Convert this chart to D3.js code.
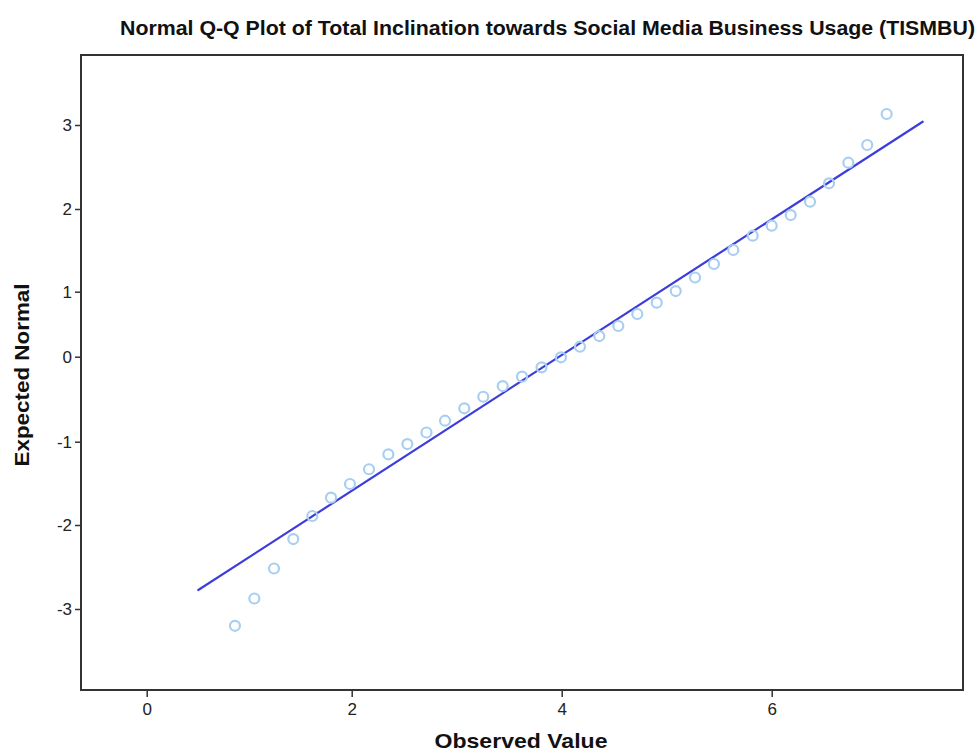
<!DOCTYPE html>
<html>
<head>
<meta charset="utf-8">
<script src="https://cdn.jsdelivr.net/npm/d3@7"></script>
<style>
  html, body { margin: 0; padding: 0; background: #fff; }
  svg { display: block; }
  .tick text { font-family: "Liberation Sans Narrow", "Liberation Sans", Arial, sans-serif; font-size: 17px; fill: #222; }
  .tick line { stroke: #333; stroke-width: 1.5; }
  .label { font-family: "Liberation Sans Narrow", "Liberation Sans", Arial, sans-serif; font-weight: bold; fill: #111; }
</style>
</head>
<body>
<svg id="chart" width="978" height="752"></svg>
<script>
// Observed scores and their expected normal quantiles
const observedValues = [
  0.861, 1.050, 1.242, 1.430, 1.616, 1.798, 1.983, 2.165, 2.349, 2.530,
  2.712, 2.889, 3.072, 3.253, 3.438, 3.622, 3.808, 3.993, 4.174, 4.358,
  4.539, 4.720, 4.905, 5.086, 5.270, 5.450, 5.634, 5.819, 6.000, 6.181,
  6.365, 6.546, 6.730, 6.910, 7.095
];
const expectedNormal = [
  -3.200, -2.875, -2.518, -2.167, -1.892, -1.672, -1.508, -1.331, -1.151, -1.028,
  -0.892, -0.753, -0.607, -0.471, -0.345, -0.235, -0.125, -0.007, 0.154, 0.318,
  0.472, 0.657, 0.831, 1.008, 1.172, 1.335, 1.504, 1.677, 1.798, 1.927,
  2.087, 2.306, 2.551, 2.762, 3.131
];
// Reference line (end points in data units)
const refLineX = [0.503, 7.438];
const refLineY = [-2.774, 3.039];

const xTicks = [0, 2, 4, 6];
const yTicks = [-3, -2, -1, 0, 1, 2, 3];

const titleText = "Normal Q-Q Plot of Total Inclination towards Social Media Business Usage (TISMBU)";
const xLabel = "Observed Value";
const yLabel = "Expected Normal";

// Plot frame
const frame = { left: 81, top: 55, right: 963, bottom: 690 };

const svg = d3.select("#chart");

// Axis scales (piecewise so each tick sits where the axis places it)
const x = d3.scaleLinear()
  .domain(xTicks)
  .range([146.7, 351.7, 561.7, 771.7]);
const y = d3.scaleLinear()
  .domain(yTicks)
  .range([609, 525, 441.7, 356.7, 291.7, 209, 125]);

// Title
svg.append("text")
  .attr("class", "label")
  .attr("x", 120)
  .attr("y", 35)
  .attr("textLength", 855)
  .attr("lengthAdjust", "spacingAndGlyphs")
  .style("font-size", "20px")
  .text(titleText);

// Frame
svg.append("rect")
  .attr("x", frame.left)
  .attr("y", frame.top)
  .attr("width", frame.right - frame.left)
  .attr("height", frame.bottom - frame.top)
  .attr("fill", "none")
  .attr("stroke", "#333")
  .attr("stroke-width", 2);

// Axes
const xAxis = svg.append("g")
  .attr("transform", `translate(0,${frame.bottom})`)
  .call(d3.axisBottom(x).tickValues(xTicks).tickSize(7).tickPadding(6).tickFormat(d => String(d)));
xAxis.select(".domain").remove();

const yAxis = svg.append("g")
  .attr("transform", `translate(${frame.left},0)`)
  .call(d3.axisLeft(y).tickValues(yTicks).tickSize(6).tickPadding(3).tickFormat(d => String(d)));
yAxis.select(".domain").remove();

// Axis titles
svg.append("text")
  .attr("class", "label")
  .attr("x", 521)
  .attr("y", 748)
  .attr("text-anchor", "middle")
  .attr("textLength", 173)
  .attr("lengthAdjust", "spacingAndGlyphs")
  .style("font-size", "21px")
  .text(xLabel);

svg.append("text")
  .attr("class", "label")
  .attr("transform", "translate(29,375) rotate(-90)")
  .attr("text-anchor", "middle")
  .attr("textLength", 183)
  .attr("lengthAdjust", "spacingAndGlyphs")
  .style("font-size", "21px")
  .text(yLabel);

// Reference line
svg.append("line")
  .attr("x1", x(refLineX[0]))
  .attr("y1", y(refLineY[0]))
  .attr("x2", x(refLineX[1]))
  .attr("y2", y(refLineY[1]))
  .attr("stroke", "#3d3ddb")
  .attr("stroke-width", 2.2)
  .attr("stroke-linecap", "round");

// Points
const points = observedValues.map((v, i) => ({ obs: v, exp: expectedNormal[i] }));
svg.append("g")
  .selectAll("circle")
  .data(points)
  .join("circle")
  .attr("cx", d => x(d.obs))
  .attr("cy", d => y(d.exp))
  .attr("r", 5)
  .attr("fill", "none")
  .attr("stroke", "#a8cff0")
  .attr("stroke-width", 2.2);
</script>
</body>
</html>
